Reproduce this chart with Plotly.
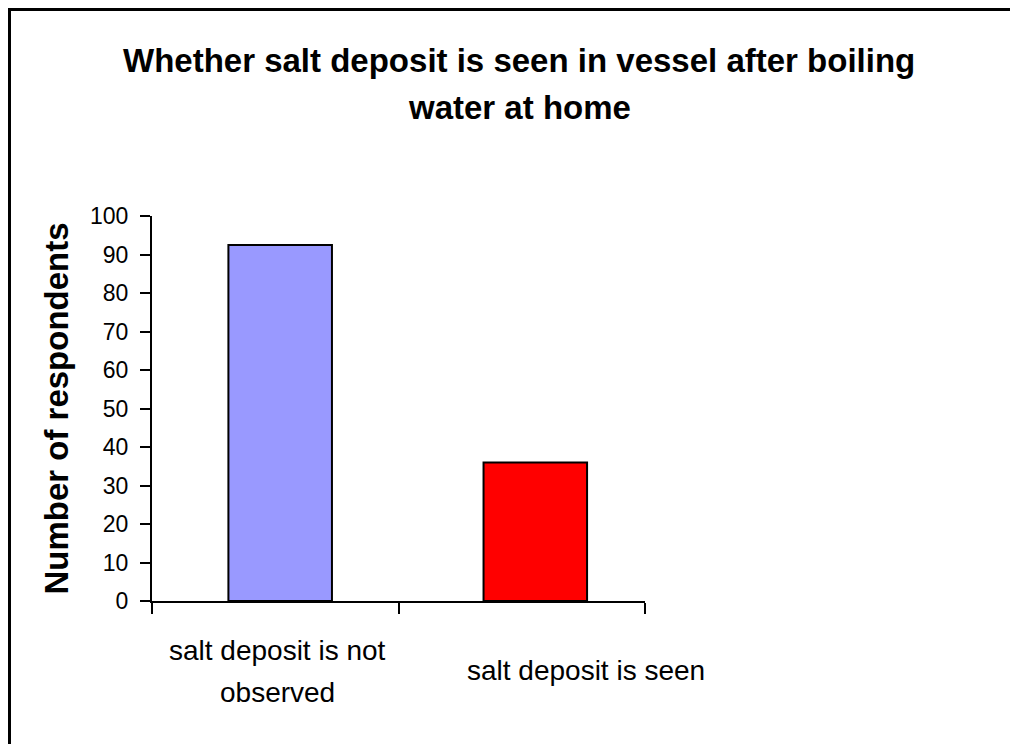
import plotly.graph_objects as go

categories = ["salt deposit is not observed", "salt deposit is seen"]
category_labels = ["salt deposit is not<br>observed", "salt deposit is seen"]
respondents = [92.5, 36]
bar_colors = ["#9999FF", "#FF0000"]
y_ticks = list(range(0, 101, 10))

title_text = "Whether salt deposit is seen in vessel after boiling<br>water at home"
y_title = "Number of respondents"

FONT = "Liberation Sans, Arial, sans-serif"

# page body adds an 8px margin; figure coordinates account for it
W, H = 1010, 736
L, T = 144, 208
PW, PH = 493, 385
R, B = W - L - PW, H - T - PH


def px_to_paper_y(fy):
    return (T + PH - fy) / PH


def px_to_paper_x(fx):
    return (fx - L) / PW


fig = go.Figure()
fig.add_trace(go.Bar(
    x=categories,
    y=respondents,
    marker=dict(color=bar_colors, line=dict(color="black", width=2)),
    width=0.42,
    offset=[-0.19, -0.155],
    showlegend=False,
))

# category labels, one annotation per text line
label_xshift = [2, 64]
label_line_yshift = [[-49, -91], [-69]]
for i, (c, t) in enumerate(zip(categories, category_labels)):
    for j, line in enumerate(t.split("<br>")):
        fig.add_annotation(
            x=c, xref="x", y=0, yref="paper",
            text=line, showarrow=False,
            xshift=label_xshift[i], yshift=label_line_yshift[i][j],
            font=dict(family=FONT, size=28, color="black"),
            align="center", yanchor="middle", xanchor="center",
        )

# chart title, one annotation per line
title_line_y = [52.5, 99.5]
for j, line in enumerate(title_text.split("<br>")):
    fig.add_annotation(
        x=px_to_paper_x(511), xref="paper",
        y=px_to_paper_y(title_line_y[j]), yref="paper",
        text="<b>" + line + "</b>", showarrow=False,
        font=dict(family=FONT, size=33, color="black"),
        xanchor="center", yanchor="middle",
    )

# chart border (top and left edges are visible in the crop)
fig.add_shape(type="line", xref="paper", yref="paper",
              x0=px_to_paper_x(1.5), x1=px_to_paper_x(W + 20),
              y0=px_to_paper_y(1.5), y1=px_to_paper_y(1.5),
              line=dict(color="black", width=3))
fig.add_shape(type="line", xref="paper", yref="paper",
              x0=px_to_paper_x(1.5), x1=px_to_paper_x(1.5),
              y0=px_to_paper_y(0), y1=px_to_paper_y(H + 20),
              line=dict(color="black", width=3))

fig.update_layout(
    width=W, height=H,
    margin=dict(l=L, r=R, t=T, b=B, pad=0),
    paper_bgcolor="white", plot_bgcolor="white",
    font=dict(family=FONT, color="black"),
)

fig.update_xaxes(
    type="category",
    range=[-0.5, 1.5],
    showline=True, linecolor="black", linewidth=2,
    ticks="outside", tickson="boundaries", ticklen=11, tickwidth=2, tickcolor="black",
    showticklabels=False, showgrid=False, zeroline=False,
)
fig.update_yaxes(
    range=[0, 100],
    tickvals=y_ticks,
    showline=True, linecolor="black", linewidth=2,
    ticks="outside", ticklen=10, tickwidth=2, tickcolor="black",
    tickfont=dict(family=FONT, size=23, color="black"),
    ticklabelstandoff=7,
    showgrid=False, zeroline=False,
    title=dict(text="<b>" + y_title + "</b>",
               font=dict(family=FONT, size=33, color="black"),
               standoff=11),
)

fig.write_html("out.html")
